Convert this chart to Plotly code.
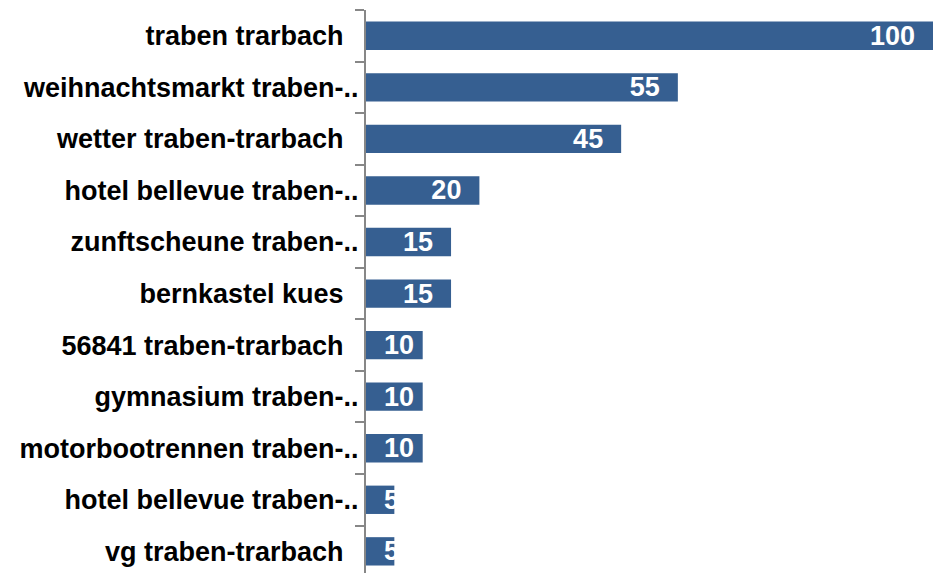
import plotly.graph_objects as go

# ---- data ----
categories = [
    "traben trarbach",
    "weihnachtsmarkt traben-..",
    "wetter traben-trarbach",
    "hotel bellevue traben-..",
    "zunftscheune traben-..",
    "bernkastel kues",
    "56841 traben-trarbach",
    "gymnasium traben-..",
    "motorbootrennen traben-..",
    "hotel bellevue traben-..\u200b",  # duplicate label, kept distinct
    "vg traben-trarbach",
]
values = [100, 55, 45, 20, 15, 15, 10, 10, 10, 5, 5]

NBSP = "\u00a0"
BAR_COLOR = "#365F91"
FONT = "Liberation Sans, Arial, sans-serif"

# tick labels: untruncated names carry a little trailing space as in the original
labels = [c if c.rstrip("\u200b").endswith("..") else c + NBSP * 2 for c in categories]

# value labels: right-aligned inside long bars, left-aligned in short ones
text_end = [f"{v}{NBSP * 2}" if v >= 15 else "" for v in values]
text_start = [f"{NBSP * 2}{v}" if v < 15 else "" for v in values]

fig = go.Figure()
fig.add_trace(go.Bar(
    x=values, y=labels, orientation="h",
    marker=dict(color=BAR_COLOR, line=dict(width=0)),
    text=text_end, textposition="inside", insidetextanchor="end",
    textangle=0, constraintext="none",
    insidetextfont=dict(color="white", size=27, family=FONT, weight="bold"),
    hoverinfo="skip", showlegend=False,
))
fig.add_trace(go.Bar(
    x=values, y=labels, orientation="h",
    marker=dict(color="rgba(0,0,0,0)", line=dict(width=0)),
    text=text_start, textposition="inside", insidetextanchor="start",
    textangle=0, constraintext="none",
    insidetextfont=dict(color="white", size=27, family=FONT, weight="bold"),
    hoverinfo="skip", showlegend=False,
))

fig.update_layout(
    width=936, height=573,
    margin=dict(l=366, r=3, t=10, b=0),
    paper_bgcolor="white", plot_bgcolor="white",
    barmode="overlay", bargap=0.45,
    xaxis=dict(range=[0, 100], visible=False, showgrid=False, zeroline=False),
    yaxis=dict(
        type="category",
        range=[10.42, -0.5],
        showline=True, linecolor="#878787", linewidth=2,
        ticks="outside", tickson="boundaries", ticklen=9, tickwidth=2,
        tickcolor="#878787",
        ticklabelstandoff=0,
        tickfont=dict(family=FONT, size=27, color="black", weight="bold"),
        showgrid=False, zeroline=False, automargin=False,
    ),
)

fig.write_html(
    "out.html",
    config={"displayModeBar": False},
    post_script="document.body.style.margin='0';document.body.style.padding='0';",
)
